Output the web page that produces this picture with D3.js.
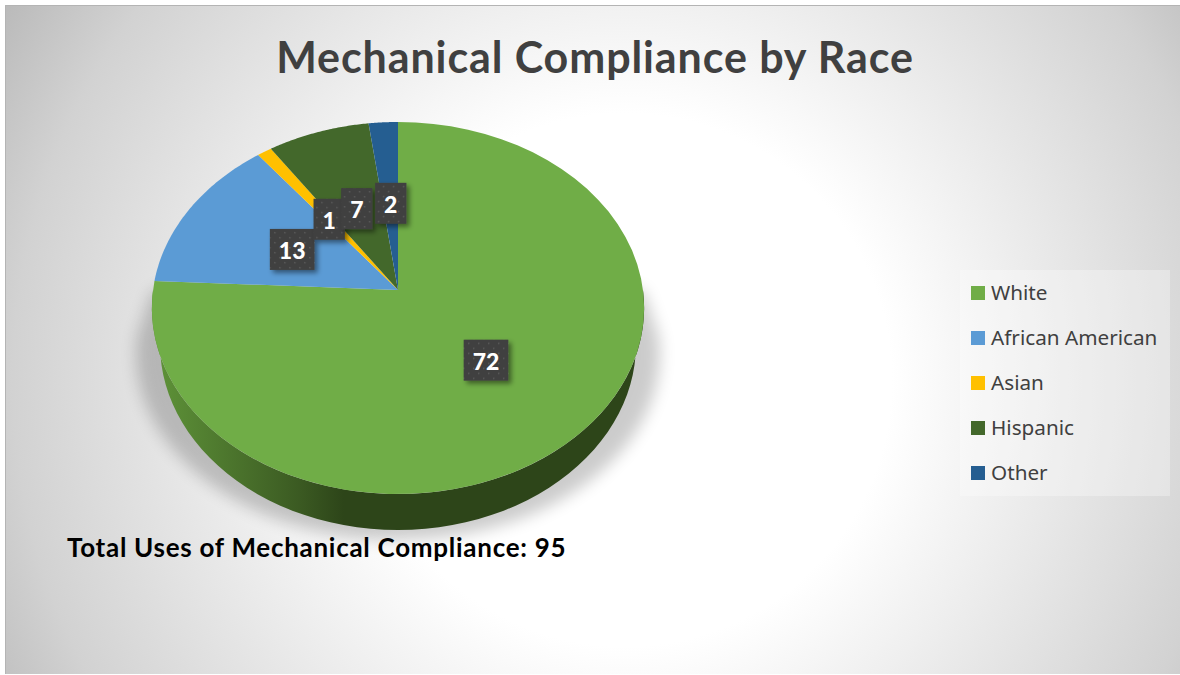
<!DOCTYPE html>
<html>
<head>
<meta charset="utf-8">
<script src="https://cdn.jsdelivr.net/npm/d3@7/dist/d3.min.js"></script>
<style>
	html, body { margin: 0; padding: 0; background: #fff; }
	svg { display: block; }
</style>
</head>
<body>
<svg id="chart" width="1180" height="675" viewBox="0 0 1180 675"></svg>
<script>
const categories = ["White", "African American", "Asian", "Hispanic", "Other"];
const values = [72, 13, 1, 7, 2];
const colors = ["#70ad47", "#5b9bd5", "#ffc000", "#43682b", "#255e91"];
const titleText = "Mechanical Compliance by Race";
const noteText = "Total Uses of Mechanical Compliance: 95";

const svg = d3.select("#chart");
const defs = svg.append("defs");

// pie plane as seen in perspective: unit disc -> screen
const centerX = 398;
const centerY = 290;
const radiusX = 245;
const tiltA = 156.2;
const tiltC = -0.0968;
const depth = 36;
const project = (u, v) => {
	const w = 1 + tiltC * v;
	return [centerX + (radiusX * u) / w, (tiltA * v + centerY) / w];
};
const polar = (angle, r) => project(r * Math.sin(angle), -r * Math.cos(angle));

// background
const bg = defs.append("radialGradient")
	.attr("id", "bg")
	.attr("gradientUnits", "userSpaceOnUse")
	.attr("cx", 625).attr("cy", 380).attr("r", 720);
[[0, "#ffffff"], [0.37, "#ffffff"], [0.85, "#d2d2d2"], [1, "#bbbbbb"]].forEach(([o, c]) => {
	bg.append("stop").attr("offset", o).attr("stop-color", c);
});
svg.append("rect")
	.attr("x", 5).attr("y", 5).attr("width", 1175).attr("height", 669)
	.attr("fill", "url(#bg)");
svg.append("path")
	.attr("d", "M5.5,674V5.5H1180")
	.attr("fill", "none").attr("stroke", "#b4b4b4");

// filters
defs.append("filter").attr("id", "pieShadow")
	.attr("x", "-20%").attr("y", "-20%").attr("width", "140%").attr("height", "140%")
	.append("feGaussianBlur").attr("stdDeviation", 8);
const boxShadow = defs.append("filter").attr("id", "boxShadow")
	.attr("x", "-30%").attr("y", "-30%").attr("width", "170%").attr("height", "170%");
boxShadow.append("feDropShadow")
	.attr("dx", 3).attr("dy", 3).attr("stdDeviation", 2.5)
	.attr("flood-color", "#000").attr("flood-opacity", 0.45);

const dots = defs.append("pattern").attr("id", "dots")
	.attr("patternUnits", "userSpaceOnUse").attr("width", 10).attr("height", 10);
dots.append("rect").attr("width", 10).attr("height", 10).attr("fill", "#404040");
[[2, 2], [7, 7]].forEach(([x, y]) => {
	dots.append("rect").attr("x", x).attr("y", y).attr("width", 1.4).attr("height", 1.4).attr("fill", "#5c5c5c");
});

const wallGrad = defs.append("linearGradient").attr("id", "wall")
	.attr("gradientUnits", "userSpaceOnUse")
	.attr("x1", 152).attr("x2", 644).attr("y1", 0).attr("y2", 0);
[[0, "#5f9439"], [0.3, "#3b5a22"], [0.39, "#2d4519"], [1, "#2d4519"]].forEach(([o, c]) => {
	wallGrad.append("stop").attr("offset", o).attr("stop-color", c);
});

const line = d3.line();
const sweep = (a0, a1, r) => d3.range(0, 61).map(i => polar(a0 + ((a1 - a0) * i) / 60, r));

// bottom rim: top edge pushed down and pulled in a little
const rimScale = d3.scaleLinear().domain([0, radiusX]).range([0, radiusX * 0.967]);
const lower = ([x, y]) => [centerX + Math.sign(x - centerX) * rimScale(Math.abs(x - centerX)), y + depth];
const rimTop = sweep(Math.PI * 0.5, Math.PI * 1.5, 1);
const rimBottom = rimTop.map(lower).reverse();

// shadow: wedge from the widest points of the top face, round under the rim
const shadowRim = rimTop.map(lower).map(([x, y]) => [centerX + (x - centerX) * 1.1, y + 10]);
svg.append("path")
	.attr("d", line([rimTop[0]].concat(shadowRim, [rimTop[rimTop.length - 1]])) + "Z")
	.attr("fill", "#000")
	.attr("opacity", 0.2)
	.attr("filter", "url(#pieShadow)");

svg.append("path")
	.attr("d", line(rimTop.concat(rimBottom)) + "Z")
	.attr("fill", "url(#wall)");

// slices
const slices = d3.pie().sort(null)(values);
svg.append("g").selectAll("path")
	.data(slices)
	.join("path")
	.attr("d", d => line([polar(0, 0)].concat(sweep(d.startAngle, d.endAngle, 1))) + "Z")
	.attr("fill", (d, i) => colors[i]);

// data labels
const labels = svg.append("g").selectAll("g")
	.data(slices)
	.join("g")
	.attr("transform", d => {
		const [x, y] = polar((d.startAngle + d.endAngle) / 2, 0.5);
		return `translate(${x + 0.5},${y + 1.5})`;
	});
const boxes = labels.append("rect")
	.attr("fill", "url(#dots)")
	.attr("filter", "url(#boxShadow)");
const labelTexts = labels.append("text")
	.attr("text-anchor", "middle")
	.attr("dy", "0.4em")
	.attr("font-family", "Lato, sans-serif")
	.attr("font-weight", 900)
	.attr("font-size", 23)
	.attr("fill", "#fff")
	.text(d => d.value);
boxes.each(function(d, i) {
	const w = labelTexts.nodes()[i].getBBox().width + 18;
	d3.select(this)
		.attr("x", -w / 2).attr("y", -21)
		.attr("width", w).attr("height", 41);
});

// title and note
svg.append("text")
	.attr("x", 595).attr("y", 72.5)
	.attr("text-anchor", "middle")
	.attr("font-family", "Lato, sans-serif")
	.attr("font-weight", 700)
	.attr("font-size", 43)
	.attr("letter-spacing", 0.9)
	.attr("fill", "#404040")
	.text(titleText);
svg.append("text")
	.attr("x", 67).attr("y", 557)
	.attr("font-family", "Lato, sans-serif")
	.attr("font-weight", 700)
	.attr("font-size", 26)
	.attr("letter-spacing", 0.72)
	.attr("fill", "#000")
	.text(noteText);

// legend
svg.append("rect")
	.attr("x", 960).attr("y", 270).attr("width", 210).attr("height", 226)
	.attr("fill", "#fff").attr("opacity", 0.3);
const legendY = d3.scalePoint().domain(categories).range([293, 473]);
const legend = svg.append("g").selectAll("g")
	.data(categories)
	.join("g")
	.attr("transform", d => `translate(971,${legendY(d)})`);
legend.append("rect")
	.attr("y", -7).attr("width", 14).attr("height", 14)
	.attr("fill", (d, i) => colors[i]);
legend.append("text")
	.attr("x", 20).attr("dy", "0.35em")
	.attr("font-family", "'Noto Sans', sans-serif")
	.attr("font-size", 20.7)
	.attr("fill", "#404040")
	.text(d => d);
</script>
</body>
</html>
